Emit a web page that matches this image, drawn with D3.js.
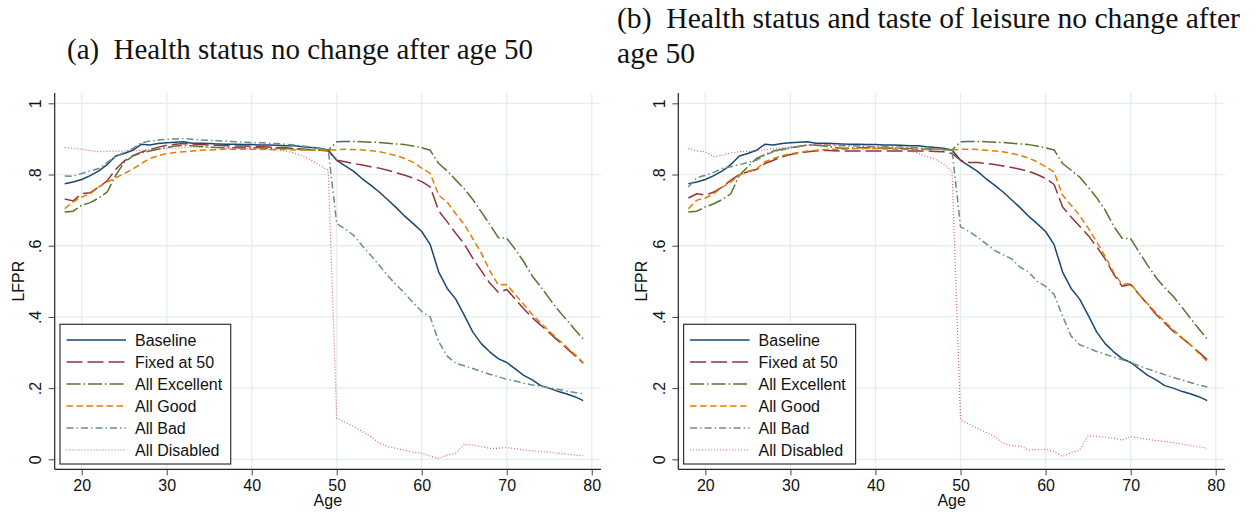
<!DOCTYPE html>
<html>
<head>
<meta charset="utf-8">
<script src="https://cdn.jsdelivr.net/npm/d3@7/dist/d3.min.js"></script>
<style>
  html, body { margin: 0; padding: 0; background: #ffffff; }
  svg { display: block; }
</style>
</head>
<body>
<svg id="chart" width="1256" height="514"></svg>
<script>
// Simulated labour-force participation rate (LFPR) by age, ages 18-79.
const ages = [18,19,20,21,22,23,24,25,26,27,28,29,30,31,32,33,34,35,36,37,38,39,40,41,42,43,44,45,46,47,48,49,
              50,51,52,53,54,55,56,57,58,59,60,61,62,63,64,65,66,67,68,69,70,71,72,73,74,75,76,77,78,79];

const baseline = [.774,.779,.786,.797,.810,.828,.852,.859,.868,.885,.883,.887,.889,.891,.892,.888,.888,.887,.886,.885,.885,.884,.884,.883,.883,.882,.881,.881,.878,.876,.874,.869,
                  .840,.824,.809,.788,.770,.751,.729,.707,.683,.662,.640,.603,.526,.480,.450,.405,.358,.325,.302,.283,.272,.254,.236,.223,.207,.200,.191,.184,.176,.165];

// Panel (a): health status held fixed after age 50
const fixedA = [.731,.726,.746,.749,.765,.782,.815,.838,.853,.863,.870,.877,.882,.885,.887,.886,.884,.883,.882,.881,.880,.880,.879,.878,.877,.876,.875,.873,.871,.869,.868,.866,
                .840,.836,.831,.827,.822,.818,.812,.805,.798,.790,.780,.765,.698,.667,.635,.605,.565,.530,.495,.469,.477,.450,.423,.398,.377,.356,.334,.313,.292,.270];
const excellentA = [.695,.697,.714,.721,.734,.751,.798,.834,.852,.861,.866,.871,.876,.880,.882,.881,.879,.877,.876,.875,.875,.875,.875,.875,.874,.874,.873,.872,.871,.870,.869,.868,
                    .892,.893,.893,.892,.891,.890,.888,.886,.884,.880,.875,.868,.831,.810,.785,.760,.730,.695,.660,.623,.621,.590,.555,.515,.485,.452,.421,.393,.365,.338];
const goodA = [.704,.723,.737,.746,.765,.779,.791,.803,.815,.831,.845,.853,.859,.862,.864,.866,.868,.869,.870,.871,.871,.871,.871,.871,.870,.870,.870,.869,.869,.869,.869,.869,
               .870,.871,.870,.869,.867,.864,.859,.853,.845,.834,.818,.803,.742,.722,.690,.660,.620,.580,.530,.490,.491,.463,.435,.407,.383,.360,.338,.317,.295,.272];
const badA = [.796,.795,.803,.810,.817,.834,.850,.862,.873,.889,.894,.897,.899,.900,.901,.899,.897,.896,.895,.894,.892,.891,.890,.889,.888,.887,.885,.883,.880,.877,.873,.869,
              .662,.647,.629,.600,.573,.545,.516,.490,.466,.440,.415,.400,.330,.290,.270,.263,.255,.247,.239,.232,.225,.220,.214,.209,.205,.201,.197,.192,.188,.184];
const disabledA = [.876,.874,.871,.867,.864,.865,.866,.866,.867,.868,.870,.872,.873,.874,.876,.877,.877,.876,.875,.874,.874,.873,.873,.872,.870,.868,.866,.860,.853,.840,.826,.812,
                   .115,.104,.092,.078,.064,.045,.036,.031,.025,.020,.017,.009,.003,.012,.017,.042,.040,.036,.031,.031,.033,.030,.026,.024,.022,.020,.017,.015,.012,.010];

// Panel (b): health status and taste of leisure held fixed after age 50
const fixedB = [.734,.746,.742,.751,.765,.784,.800,.808,.814,.831,.840,.850,.856,.860,.864,.866,.868,.867,.866,.866,.866,.866,.866,.866,.866,.866,.866,.866,.866,.865,.864,.859,
                .840,.834,.834,.831,.828,.824,.820,.815,.809,.800,.789,.772,.709,.681,.655,.629,.597,.563,.520,.486,.491,.463,.435,.407,.383,.360,.341,.322,.301,.280];
const excellentB = [.695,.697,.709,.718,.730,.746,.798,.822,.845,.856,.866,.871,.875,.879,.883,.882,.880,.877,.874,.874,.875,.875,.875,.874,.874,.873,.873,.872,.871,.871,.870,.869,
                    .892,.893,.893,.892,.891,.890,.888,.886,.884,.880,.875,.869,.831,.812,.793,.765,.735,.700,.655,.621,.620,.582,.545,.510,.482,.458,.428,.397,.367,.338];
const goodB = [.704,.728,.734,.746,.765,.779,.798,.809,.815,.836,.845,.853,.858,.862,.866,.868,.870,.871,.871,.872,.873,.873,.873,.872,.872,.871,.871,.870,.870,.870,.870,.869,
               .871,.871,.870,.868,.866,.864,.859,.854,.846,.836,.822,.807,.742,.714,.685,.650,.611,.570,.525,.491,.494,.463,.437,.411,.387,.364,.343,.322,.298,.275];
const badB = [.765,.791,.798,.806,.817,.822,.828,.834,.840,.854,.864,.869,.875,.879,.883,.883,.883,.882,.881,.880,.880,.879,.878,.878,.877,.877,.876,.875,.873,.872,.870,.869,
              .653,.640,.624,.606,.587,.575,.563,.540,.526,.500,.486,.463,.402,.346,.322,.313,.303,.295,.287,.280,.272,.263,.254,.246,.238,.230,.223,.216,.209,.203];
const disabledB = [.873,.866,.864,.850,.854,.861,.864,.865,.866,.870,.873,.875,.878,.880,.883,.884,.884,.884,.883,.882,.881,.880,.878,.877,.875,.873,.866,.860,.851,.843,.830,.809,
                   .111,.099,.087,.076,.064,.045,.038,.038,.026,.027,.028,.022,.008,.019,.026,.066,.064,.062,.059,.054,.064,.060,.056,.053,.050,.047,.043,.039,.035,.031];

const seriesNames = ["Baseline", "Fixed at 50", "All Excellent", "All Good", "All Bad", "All Disabled"];
const xTicks = [20, 30, 40, 50, 60, 70, 80];
const yTicks = [0, 0.2, 0.4, 0.6, 0.8, 1];
const yTickLabels = ["0", ".2", ".4", ".6", ".8", "1"];

// Stata s2color-like line styles, one per series
const styles = [
  { color: "#1a476f", dash: null,          width: 1.5, opacity: 1 },
  { color: "#90353b", dash: "16,5",        width: 1.5, opacity: 1 },
  { color: "#55752f", dash: "14,3,1.5,3",  width: 1.5, opacity: 1 },
  { color: "#e37e00", dash: "6.5,3.5",     width: 1.5, opacity: 1 },
  { color: "#6e8e84", dash: "7,3,1.5,3",   width: 1.5, opacity: 1 },
  { color: "#d8466e", dash: "1,2",         width: 1.2, opacity: 0.85 }
];

const svg = d3.select("#chart");
const FONT = "'Liberation Sans', Arial, Helvetica, sans-serif";
const SERIF = "'Liberation Serif', 'Times New Roman', serif";

function fitText(sel, target) {
  // scale font size so the rendered string spans the target width
  const node = sel.node();
  const fs = parseFloat(sel.attr("font-size"));
  const w = node.getComputedTextLength();
  if (w > 0) sel.attr("font-size", (fs * target / w).toFixed(2));
}

function drawPanel(opts) {
  const { left, right, top, bottom, data } = opts;
  const x = d3.scaleLinear().domain([16.82, 81.09]).range([left, right]);
  const y = d3.scaleLinear().domain([-0.028, 1.029]).range([bottom, top]);
  const g = svg.append("g");

  // grid
  g.append("g").selectAll("line.h").data(yTicks).join("line")
    .attr("x1", left).attr("x2", right)
    .attr("y1", d => y(d)).attr("y2", d => y(d))
    .attr("stroke", "#e4edf0").attr("stroke-width", 1.3);
  g.append("g").selectAll("line.v").data(xTicks).join("line")
    .attr("x1", d => x(d)).attr("x2", d => x(d))
    .attr("y1", top).attr("y2", bottom)
    .attr("stroke", "#e4edf0").attr("stroke-width", 1.3);

  // series
  const line = d3.line().x((d, i) => x(ages[i])).y(d => y(d));
  data.forEach((vals, k) => {
    const s = styles[k];
    g.append("path").datum(vals)
      .attr("d", line)
      .attr("fill", "none")
      .attr("stroke", s.color)
      .attr("stroke-width", s.width)
      .attr("stroke-opacity", s.opacity)
      .attr("stroke-dasharray", s.dash)
      .attr("stroke-linejoin", "round");
  });

  // axes
  const xAxis = d3.axisBottom(x).tickValues(xTicks).tickSize(6).tickPadding(3).tickFormat(d3.format("d"));
  const gx = g.append("g").attr("transform", `translate(0,${bottom})`).call(xAxis);
  gx.select(".domain").attr("d", `M${left},0H${right}`).attr("stroke", "#222").attr("stroke-width", 1.2);
  gx.selectAll(".tick line").attr("stroke", "#444");
  gx.selectAll(".tick text").attr("font-family", FONT).attr("font-size", 16).attr("fill", "#111")
    .attr("y", 10);

  const yAxis = d3.axisLeft(y).tickValues(yTicks).tickSize(6).tickFormat((d, i) => yTickLabels[i]);
  const gy = g.append("g").attr("transform", `translate(${left},0)`).call(yAxis);
  gy.select(".domain").attr("d", `M0,${top}V${bottom}`).attr("stroke", "#222").attr("stroke-width", 1.2);
  gy.selectAll(".tick line").attr("stroke", "#444");
  gy.selectAll(".tick text")
    .attr("font-family", FONT).attr("font-size", 16).attr("fill", "#111")
    .attr("x", null).attr("dy", null)
    .attr("text-anchor", "middle")
    .attr("transform", "translate(-13.5,0) rotate(-90)");

  // axis titles
  g.append("text").text("Age")
    .attr("x", (left + right) / 2).attr("y", 506)
    .attr("text-anchor", "middle").attr("font-family", FONT).attr("font-size", 16).attr("fill", "#111");
  g.append("text").text("LFPR")
    .attr("transform", `translate(${left - 31},${(top + bottom) / 2}) rotate(-90)`)
    .attr("text-anchor", "middle").attr("font-family", FONT).attr("font-size", 16).attr("fill", "#111");

  // legend
  const lx = left + 5.3, ly = 324.3, lw = opts.legendWidth, lh = 139.7;
  const lg = g.append("g");
  lg.append("rect").attr("x", lx).attr("y", ly).attr("width", lw).attr("height", lh)
    .attr("fill", "#ffffff").attr("stroke", "#333").attr("stroke-width", 1.2);
  seriesNames.forEach((name, k) => {
    const cy = ly + 15.7 + k * 22;
    const s = styles[k];
    lg.append("line")
      .attr("x1", lx + 6.5).attr("x2", lx + 66).attr("y1", cy).attr("y2", cy)
      .attr("stroke", s.color).attr("stroke-width", s.width)
      .attr("stroke-opacity", s.opacity).attr("stroke-dasharray", s.dash);
    lg.append("text").text(name)
      .attr("x", lx + 75).attr("y", cy).attr("dy", "0.35em")
      .attr("font-family", FONT).attr("font-size", 16).attr("fill", "#111");
  });
}

drawPanel({ left: 54.7, right: 601, top: 93, bottom: 469.3, legendWidth: 170.7,
            data: [baseline, fixedA, excellentA, goodA, badA, disabledA] });
drawPanel({ left: 678.3, right: 1225, top: 93, bottom: 469.3, legendWidth: 172,
            data: [baseline, fixedB, excellentB, goodB, badB, disabledB] });

// panel captions
const capA = svg.append("text").text("(a)\u2002Health status no change after age 50")
  .attr("x", 67).attr("y", 59).attr("font-family", SERIF).attr("font-size", 26).attr("fill", "#111");
fitText(capA, 466);
const capB1 = svg.append("text").text("(b)\u2002Health status and taste of leisure no change after")
  .attr("x", 617).attr("y", 28).attr("font-family", SERIF).attr("font-size", 26).attr("fill", "#111");
fitText(capB1, 623);
svg.append("text").text("age 50")
  .attr("x", 617).attr("y", 63).attr("font-family", SERIF).attr("font-size", capB1.attr("font-size")).attr("fill", "#111");
</script>
</body>
</html>
